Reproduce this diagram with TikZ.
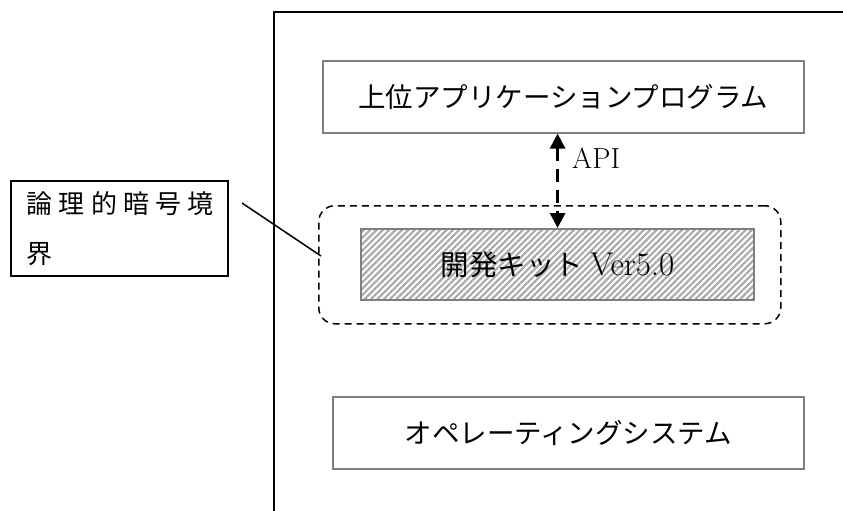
\documentclass[tikz,border=0pt]{standalone}
\usepackage{fontspec}
\newfontfamily\jp{Noto Sans CJK JP}
\newfontfamily\jpls[LetterSpace=24]{Noto Sans CJK JP}
\usetikzlibrary{patterns.meta,arrows.meta}
\definecolor{boxgray}{HTML}{7F7F7F}
\definecolor{stripe}{HTML}{ABABAB}
\begin{document}
\begin{tikzpicture}[x=1pt,y=-1pt,
  layerbox/.style={draw=boxgray,line width=1.6pt,inner sep=0pt,anchor=north west,
    font=\jp\fontsize{27.5}{30}\selectfont},
  framel/.style={line width=1.5pt,black},
  boundary/.style={draw=black,line width=1.5pt,dash pattern=on 7pt off 5pt,rounded corners=16pt},
  apiarrow/.style={line width=3pt,dash pattern=on 13pt off 8pt,
    {Triangle[length=15pt,width=15pt]}-{Triangle[length=15pt,width=15pt]}},
  labelbox/.style={draw=black,line width=1.5pt,anchor=north west,inner xsep=16pt,inner ysep=0pt,
    text width=185pt,minimum height=95pt,align=left},
  leader/.style={line width=1.5pt,black}]
\useasboundingbox (0,0) rectangle (843,511);
% frame
\draw[framel] (274,511) -- (274,12) -- (843,12);
% boxes
\node[layerbox,minimum width=481pt,minimum height=72pt] (app) at (322,60) {上位アプリケーションプログラム};
\node[layerbox,minimum width=471pt,minimum height=72pt] (os) at (332,396) {オペレーティングシステム};
\node[layerbox,minimum width=393pt,minimum height=71pt,font=\jp\fontsize{28.5}{30}\selectfont,
  pattern={Lines[angle=45,distance=4.5pt,line width=2.2pt]},pattern color=stripe] (kit) at (360,228)
  {開発キット\hspace{7pt}{\fontspec{Latin Modern Roman}\fontsize{33}{33}\selectfont Ver5.0}};
% logical boundary
\node[boundary,anchor=north west,minimum width=462pt,minimum height=118pt,inner sep=0pt] (bound) at (318,205) {};
% API arrow
\draw[apiarrow] (kit.north |- app.south) -- (kit.north);
\node[anchor=west,inner sep=0pt,font=\fontsize{29}{30}\selectfont] (api) at (572,158) {API};
% label
\node[labelbox] (label) at (10,180) {\jpls\fontsize{26}{30}\selectfont 論理的暗号境\\[26pt]界};
\coordinate (lead1) at (242,203);
\coordinate (lead2) at (321,256);
\draw[leader] (lead1) -- (lead2);
\end{tikzpicture}
\end{document}
